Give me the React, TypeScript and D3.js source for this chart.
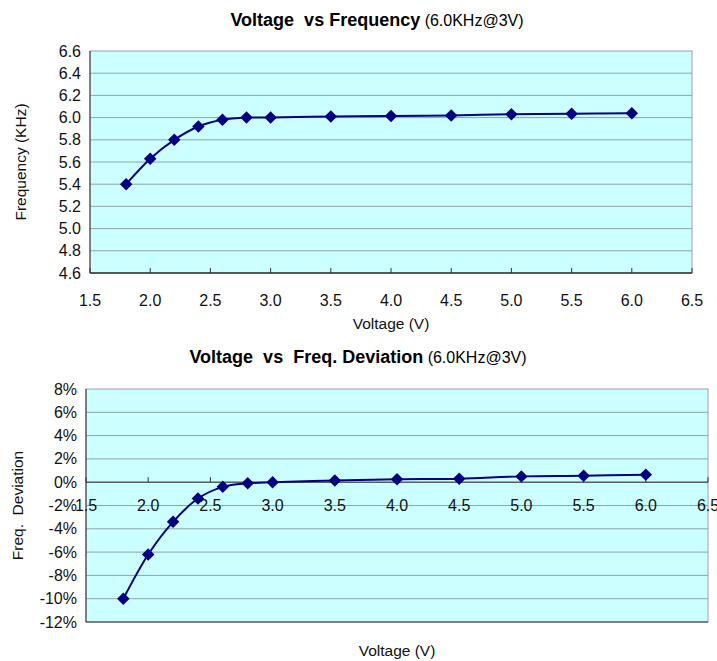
import React from "react";
import * as d3 from "d3";

// measured voltages (V)
const voltage = [1.8, 2.0, 2.2, 2.4, 2.6, 2.8, 3.0, 3.5, 4.0, 4.5, 5.0, 5.5, 6.0];
// oscillator frequency (KHz) at each voltage
const frequency = [5.4, 5.63, 5.8, 5.92, 5.98, 6.0, 6.0, 6.01, 6.015, 6.02, 6.03, 6.035, 6.04];
// deviation from 6.0KHz (%)
const deviation = [-10.0, -6.2, -3.4, -1.4, -0.4, -0.1, 0.0, 0.15, 0.25, 0.3, 0.5, 0.55, 0.65];

const xTicks = [1.5, 2.0, 2.5, 3.0, 3.5, 4.0, 4.5, 5.0, 5.5, 6.0, 6.5];
const freqTicks = [4.6, 4.8, 5.0, 5.2, 5.4, 5.6, 5.8, 6.0, 6.2, 6.4, 6.6];
const devTicks = [-12, -10, -8, -6, -4, -2, 0, 2, 4, 6, 8];

const FONT = "'Liberation Sans', Arial, sans-serif";
const NAVY = "#000080";
const GRID = "#8ea5a5";
const NBSP = "\u00a0";

type PanelProps = {
    values: number[];
    yTicks: number[];
    yFmt: (v: number) => string;
    box: { left: number; right: number; top: number; bottom: number };
    axisAt: number; // y value where the category axis sits
    xLabelY: number;
    title: string;
    titleX: number;
    titleY: number;
    yTitle: string;
    yTitleX: number;
    xTitleY: number;
};

const Panel: React.FC<PanelProps> = ({
    values, yTicks, yFmt, box, axisAt, xLabelY,
    title, titleX, titleY, yTitle, yTitleX, xTitleY,
}) => {
    const x = d3.scaleLinear().domain([1.5, 6.5]).range([box.left, box.right]);
    const y = d3
        .scaleLinear()
        .domain([yTicks[0], yTicks[yTicks.length - 1]])
        .range([box.bottom, box.top]);

    const pts = voltage.map((v, i) => [v, values[i]] as [number, number]);
    const line = d3
        .line<[number, number]>()
        .x((d) => x(d[0]))
        .y((d) => y(d[1]))
        .curve(d3.curveCatmullRom.alpha(0.5));
    const marker = d3.symbol(d3.symbolSquare, 78)()!;
    const axisY = y(axisAt);
    const cx = (box.left + box.right) / 2;
    const cy = (box.top + box.bottom) / 2;

    return (
        <g fontFamily={FONT}>
            <text x={titleX} y={titleY} textAnchor="middle" fill="#000">
                <tspan fontWeight="bold" fontSize={18}>{title}</tspan>
                <tspan fontSize={16}>{NBSP}(6.0KHz@3V)</tspan>
            </text>

            <rect
                x={box.left}
                y={box.top}
                width={box.right - box.left}
                height={box.bottom - box.top}
                fill="#ccffff"
                stroke="#a0a0a0"
            />
            {yTicks.slice(1, -1).map((t) => (
                <line key={t} x1={box.left} x2={box.right} y1={y(t)} y2={y(t)} stroke={GRID} />
            ))}
            <line x1={box.left} x2={box.left} y1={box.top} y2={box.bottom} stroke="#333" />
            <line x1={box.left} x2={box.right} y1={box.bottom} y2={box.bottom} stroke="#333" />
            <line x1={box.left} x2={box.right} y1={axisY} y2={axisY} stroke="#333" />
            {xTicks.map((t) => (
                <line key={t} x1={x(t)} x2={x(t)} y1={axisY} y2={axisY - 5} stroke="#333" />
            ))}

            {yTicks.map((t) => (
                <text key={t} x={box.left - 9} y={y(t) + 5.5} textAnchor="end" fontSize={16} fill="#111">
                    {yFmt(t)}
                </text>
            ))}
            {xTicks.map((t) => (
                <text key={t} x={x(t)} y={xLabelY} textAnchor="middle" fontSize={16} fill="#111">
                    {t.toFixed(1)}
                </text>
            ))}

            <text
                transform={`translate(${yTitleX},${cy}) rotate(-90)`}
                textAnchor="middle"
                fontSize={15.5}
                fill="#111"
            >
                {yTitle}
            </text>
            <text x={cx} y={xTitleY} textAnchor="middle" fontSize={15.5} fill="#111">
                Voltage (V)
            </text>

            <path d={line(pts) ?? ""} fill="none" stroke={NAVY} strokeWidth={2} />
            {pts.map((d, i) => (
                <path
                    key={i}
                    d={marker}
                    transform={`translate(${x(d[0])},${y(d[1])}) rotate(45)`}
                    fill={NAVY}
                />
            ))}
        </g>
    );
};

export default function App() {
    return (
        <svg
            width={717}
            height={661}
            style={{ position: "absolute", left: 0, top: 0, background: "#fff" }}
        >
            <Panel
                values={frequency}
                yTicks={freqTicks}
                yFmt={(v) => v.toFixed(1)}
                box={{ left: 90, right: 692, top: 51, bottom: 273 }}
                axisAt={4.6}
                xLabelY={306}
                title={`Voltage${NBSP}${NBSP}vs Frequency`}
                titleX={377}
                titleY={26}
                yTitle="Frequency (KHz)"
                yTitleX={26}
                xTitleY={329}
            />
            <Panel
                values={deviation}
                yTicks={devTicks}
                yFmt={(v) => `${v}%`}
                box={{ left: 86, right: 708, top: 389, bottom: 622 }}
                axisAt={0}
                xLabelY={511}
                title={`Voltage${NBSP}${NBSP}vs${NBSP}${NBSP}Freq. Deviation`}
                titleX={358}
                titleY={363}
                yTitle={`Freq.${NBSP}${NBSP}Deviation`}
                yTitleX={23}
                xTitleY={656}
            />
        </svg>
    );
}
